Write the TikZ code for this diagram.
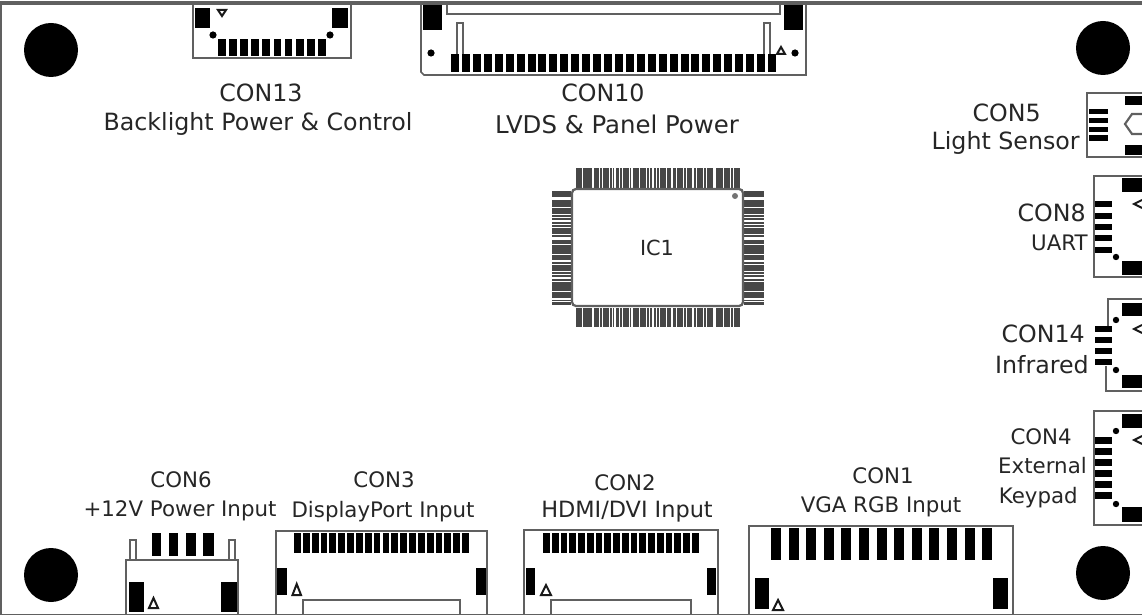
\documentclass[tikz,border=0pt]{standalone}
\usepackage{fontspec}
\setmainfont{DejaVu Sans}
\definecolor{linegray}{HTML}{606060}
\definecolor{txt}{HTML}{262626}
\newcommand{\hpins}[6]{\foreach \i in {1,...,#6}{\fill[black] ({#1+(\i-1)*#5},#2) rectangle ++(#3,#4);}}
\newcommand{\striph}[4]{\foreach \i in {0,...,#3}{\fill[pin] ({#1+\i*3.36},#2) rectangle ++(2.8,#4);}}
\newcommand{\stripv}[4]{\foreach \i in {0,...,#3}{\fill[pin] (#1,{#2+\i*3.36}) rectangle ++(#4,2.8);}}
\tikzset{
  x=0.75pt,y=-0.75pt,
  outline/.style={draw=linegray,line width=1.7pt,fill=white},
  thinout/.style={draw=linegray,line width=1.3pt,fill=white},
  pad/.style={fill=black},
  pin/.style={fill=black!72},
  gap/.style={draw=white,line width=0.9pt},
  hole/.style={fill=black},
  tri/.style={draw=black!90,line width=1.5pt,fill=white,line join=miter},
  lbl/.style={font=\fontsize{17.8pt}{21pt}\selectfont,text=txt,inner sep=0pt,anchor=center},
  lblr/.style={lbl,anchor=east},
  lsm/.style={font=\fontsize{16pt}{19pt}\selectfont}
}
\begin{document}
\begin{tikzpicture}
\useasboundingbox (0,0) rectangle (1142,616);
\fill[white] (0,0) rectangle (1142,616);
% holes
\fill[hole] (51,50) circle (27);
\fill[hole] (1103,48) circle (27);
\fill[hole] (51,575) circle (27);
\fill[hole] (1103,573) circle (27);
% CON13
\draw[outline] (193,4) rectangle (351,58);
\fill[pad] (195,8) rectangle (210,28);
\fill[pad] (332,8) rectangle (348,28);
\draw[tri] (218,10) -- (226,10) -- (222,16) -- cycle;
\fill[hole] (213,35) circle (3.6);
\fill[hole] (330,35) circle (3.6);
\hpins{218}{39}{7.8}{17}{11.1}{10}
% CON10
\draw[thinout] (421,4) -- (421,72) -- (424,75) -- (806,75) -- (806,4);
\fill[pad] (423,4) rectangle (442,30);
\fill[pad] (784,4) rectangle (803,30);
\draw[thinout] (447,4) -- (447,14) -- (780,14) -- (780,4);
\draw[thinout] (457,72) -- (457,23) -- (463,23) -- (463,72);
\draw[thinout] (764,55) -- (764,23) -- (770,23) -- (770,55);
\fill[hole] (431,53) circle (3.6);
\fill[hole] (795,53) circle (3.6);
\hpins{451}{54}{8}{18}{10.93}{30}
\draw[tri] (777,54) -- (785,54) -- (781,47) -- cycle;
% IC1
\striph{576}{168}{48}{20}
\striph{576}{308}{48}{19}
\stripv{552}{191}{33}{19}
\stripv{744}{191}{33}{20}
\foreach \x in {593,615,632,653,672,693,715}{
  \draw[gap] (\x,168) -- (\x,188);
  \draw[gap] (\x,308) -- (\x,327);
}
\foreach \y in {199,221,239,261,278,299}{
  \draw[gap] (552,\y) -- (571,\y);
  \draw[gap] (744,\y) -- (764,\y);
}
\draw[draw=linegray,line width=1.7pt,fill=white,rounded corners=3pt] (572,189) rectangle (743,306);
\fill[black!55] (735,196) circle (3);
% CON5
\draw[thinout] (1142,93) -- (1087,93) -- (1087,157) -- (1142,157);
\fill[pad] (1125,96) rectangle (1142,105);
\fill[pad] (1125,145) rectangle (1142,155);
\fill[pad] (1089,109) rectangle (1108,114.5);
\fill[pad] (1089,118) rectangle (1108,123.5);
\fill[pad] (1089,127) rectangle (1108,132.5);
\fill[pad] (1089,135) rectangle (1108,141);
\draw[draw=linegray,line width=1.6pt] (1142,114) -- (1132,114) -- (1125,124) -- (1132,134) -- (1142,134);
% CON8
\draw[thinout] (1142,176) -- (1094,176) -- (1094,277) -- (1142,277);
\fill[pad] (1122,178) rectangle (1142,192);
\fill[pad] (1122,261) rectangle (1142,275);
\foreach \y in {201,213,224,235,247}{\fill[pad] (1095,\y) rectangle (1112,\y+6.5);}
\fill[hole] (1116,257) circle (3.2);
\draw[tri] (1142,200) -- (1134,204) -- (1142,208);
% CON14
\draw[thinout] (1142,299) -- (1108,299) -- (1108,326);
\draw[thinout] (1106,366) -- (1106,391) -- (1142,391);
\fill[pad] (1122,303) rectangle (1142,316);
\fill[pad] (1122,375) rectangle (1142,388);
\foreach \y in {326,337,348,359}{\fill[pad] (1095,\y) rectangle (1112,\y+6.5);}
\fill[hole] (1116,320) circle (3.2);
\fill[hole] (1116,370) circle (3.2);
\draw[tri] (1142,325) -- (1134,329) -- (1142,333);
% CON4
\draw[thinout] (1142,411) -- (1094,411) -- (1094,525) -- (1142,525);
\fill[pad] (1122,414) rectangle (1142,428);
\fill[pad] (1122,507) rectangle (1142,522);
\foreach \y in {437,448,459,470,481,492}{\fill[pad] (1095,\y) rectangle (1112,\y+6.5);}
\fill[hole] (1116,431) circle (3.2);
\fill[hole] (1116,504) circle (3.2);
\draw[tri] (1142,436) -- (1134,440) -- (1142,444);
% CON6
\draw[thinout] (130,560) -- (130,540) -- (136,540) -- (136,560);
\draw[thinout] (229,560) -- (229,540) -- (235,540) -- (235,560);
\draw[thinout] (126,614) -- (126,560) -- (238,560) -- (238,614);
\fill[pad] (129,582) rectangle (144,612);
\fill[pad] (221,582) rectangle (237,612);
\draw[tri] (149,608) -- (158,608) -- (153.5,598) -- cycle;
\fill[pad] (152,533) rectangle (161,556);
\fill[pad] (169,533) rectangle (178,556);
\fill[pad] (186,533) rectangle (196,556);
\fill[pad] (203,533) rectangle (214,556);
% CON3
\draw[thinout] (276,614) -- (276,531) -- (487,531) -- (487,614);
\hpins{294}{533}{6.8}{20}{8.85}{20}
\fill[pad] (277,568) rectangle (287,595);
\fill[pad] (476,568) rectangle (486,595);
\draw[tri] (292.5,595) -- (301,595) -- (296.7,584) -- cycle;
\draw[thinout] (303,614) -- (303,600) -- (460,600) -- (460,614);
% CON2
\draw[thinout] (524,614) -- (524,530) -- (718,530) -- (718,614);
\hpins{543}{533}{6.8}{20}{8.75}{18}
\fill[pad] (526,568) rectangle (535,595);
\fill[pad] (707,568) rectangle (716,595);
\draw[tri] (541,595) -- (551,595) -- (546,585) -- cycle;
\draw[thinout] (551,614) -- (551,600) -- (691,600) -- (691,614);
% CON1
\draw[thinout] (749,614) -- (749,526) -- (1013,526) -- (1013,614);
\hpins{771}{528}{10}{32}{17.6}{13}
\fill[pad] (755,578) rectangle (769,609);
\fill[pad] (993,578) rectangle (1008,609);
\draw[tri] (773,610) -- (783,610) -- (778,600) -- cycle;
% board edge
\draw[draw=linegray,line width=2.4pt] (0,3) -- (1142,3);
\draw[draw=linegray,line width=1.3pt] (0.8,3) -- (0.8,615);
\draw[draw=linegray,line width=1.3pt] (0,614.6) -- (1142,614.6);
% labels
\node[lbl] (t13a) at (261,93) {CON13};
\node[lbl] (t13b) at (258,124) {Backlight Power \& Control};
\node[lbl] (t10a) at (603,93) {CON10};
\node[lbl,font=\fontsize{18.3pt}{21pt}\selectfont] (t10b) at (617,124) {LVDS \& Panel Power};
\node[lbl,font=\fontsize{15.6pt}{19pt}\selectfont] (tic) at (657,248) {IC1};
\node[lblr] (t5a) at (1041,113) {CON5};
\node[lblr] (t5b) at (1080,143) {Light Sensor};
\node[lblr] (t8a) at (1086,213) {CON8};
\node[lblr,lsm] (t8b) at (1088,243) {UART};
\node[lblr] (t14a) at (1085,334) {CON14};
\node[lblr] (t14b) at (1089,365) {Infrared};
\node[lblr,lsm] (t4a) at (1072,437) {CON4};
\node[lblr,lsm] (t4b) at (1087,466) {External};
\node[lblr,lsm] (t4c) at (1078,498) {Keypad};
\node[lbl,lsm] (t6a) at (181,480) {CON6};
\node[lbl,lsm] (t6b) at (180,511) {+12V Power Input};
\node[lbl,lsm] (t3a) at (384,480) {CON3};
\node[lbl,lsm] (t3b) at (383,512) {DisplayPort Input};
\node[lbl,lsm] (t2a) at (625,483) {CON2};
\node[lbl,font=\fontsize{16.8pt}{19pt}\selectfont] (t2b) at (627,512) {HDMI/DVI Input};
\node[lbl,lsm] (t1a) at (883,476) {CON1};
\node[lbl,lsm] (t1b) at (881,507) {VGA RGB Input};
\end{tikzpicture}
\end{document}
